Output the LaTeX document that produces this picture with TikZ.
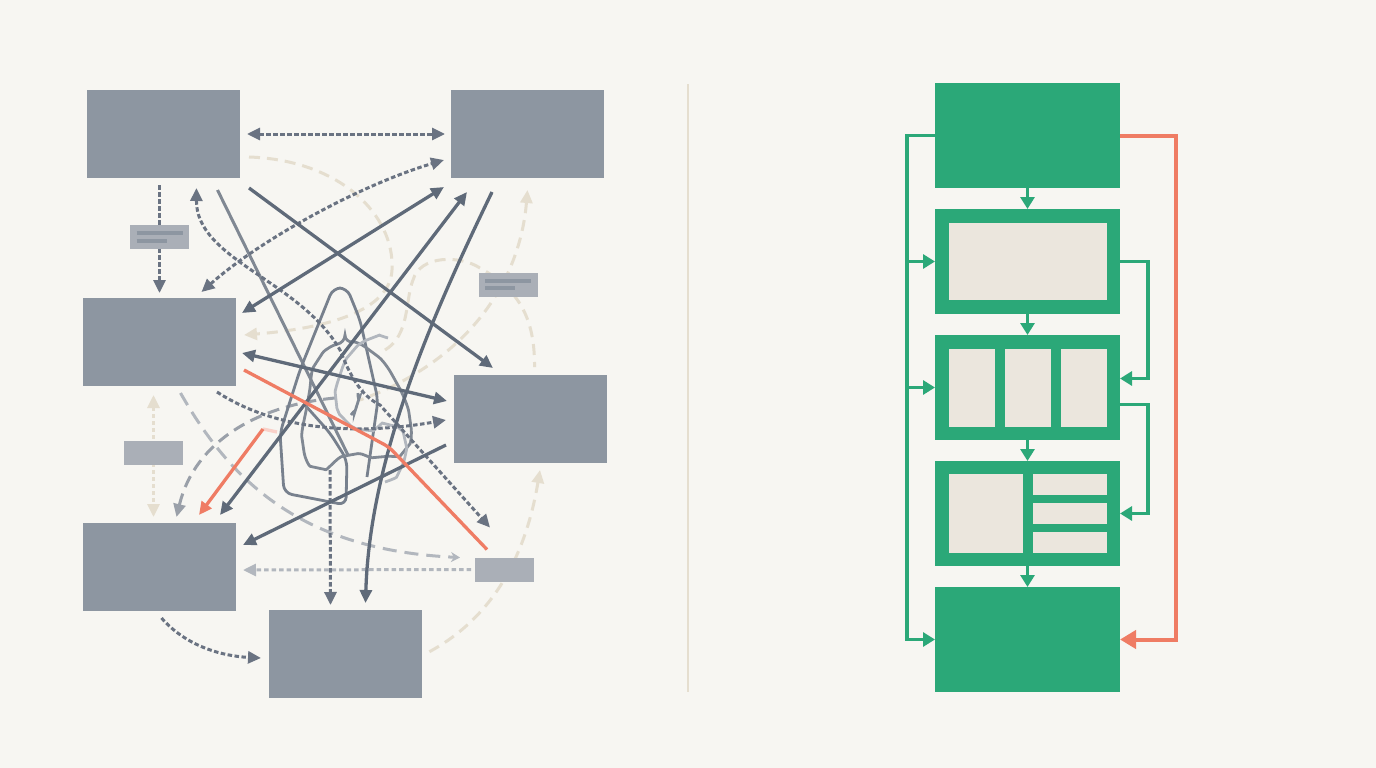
\documentclass[tikz,border=0pt]{standalone}
\definecolor{paper}{RGB}{247,246,242}
\definecolor{boxgray}{RGB}{141,150,161}
\definecolor{taggray}{RGB}{170,175,183}
\definecolor{inkgray}{RGB}{95,106,121}
\definecolor{dotgray}{RGB}{106,115,130}
\definecolor{midgray}{RGB}{128,136,147}
\definecolor{softgray}{RGB}{154,160,169}
\definecolor{palegray}{RGB}{178,183,190}
\definecolor{sand}{RGB}{229,222,207}
\definecolor{flowgreen}{RGB}{43,168,120}
\definecolor{alertorange}{RGB}{239,124,100}
\definecolor{cream}{RGB}{235,230,221}
\usepackage{tikz}
\usetikzlibrary{arrows.meta, positioning, calc}
\pgfdeclarelayer{back}
\pgfsetlayers{back,main}

\tikzset{
  graybox/.style={fill=boxgray, minimum width=153pt, minimum height=88pt, inner sep=0pt, outer sep=0pt},
  tagbox/.style={fill=taggray, minimum width=59pt, minimum height=24pt, inner sep=0pt, outer sep=0pt},
  tagline/.style={line width=3.5pt, draw=boxgray},
  inkline/.style={line width=3.3pt, draw=inkgray},
  dotline/.style={line width=3pt, draw=dotgray, dash pattern=on 4.5pt off 2.5pt},
  sandline/.style={line width=3pt, draw=sand, dash pattern=on 11pt off 7pt},
  knot/.style={line width=2.8pt, rounded corners=8pt},
  greenbox/.style={fill=flowgreen, minimum width=185pt, minimum height=105pt, inner sep=0pt, outer sep=0pt},
  greenline/.style={line width=3.3pt, draw=flowgreen, -{Triangle[length=12pt,width=14pt]}},
  alertline/.style={line width=3.3pt, draw=alertorange},
}

\begin{document}
\begin{tikzpicture}[x=1pt, y=-1pt, >={Triangle[length=13pt,width=12pt]}]
  % Tangled modules
  \node[graybox] (modA) at (163.5,134) {};
  \node[graybox] (modB) at (527.5,134) {};
  \node[graybox] (modC) at (159.5,342) {};
  \node[graybox] (modD) at (530.5,419) {};
  \node[graybox] (modE) at (159.5,567) {};
  \node[graybox] (modF) at (345.5,654) {};

  % Small tags on the links
  \node[tagbox] (tagA) at (159.5,237) {};
  \draw[tagline] ($(tagA.center)+(-23,-4)$) -- ++(46,0);
  \draw[tagline] ($(tagA.center)+(-23,4)$) -- ++(30,0);
  \node[tagbox] (tagB) at (508,285) {};
  \draw[tagline] ($(tagB.center)+(-23,-4)$) -- ++(46,0);
  \draw[tagline] ($(tagB.center)+(-23,3)$) -- ++(30,0);
  \node[tagbox] (tagC) at (153.5,452.5) {};
  \node[tagbox] (tagD) at (504.5,569.5) {};

  % Loose ends in the knot
  \coordinate (knotA) at (348,455);
  \coordinate (knotE) at (335,398);
  \coordinate (knotF) at (330,470);
  \coordinate (knotS1) at (385,350);
  \coordinate (knotS2) at (360,400);
  \coordinate (obend) at (263,429);

  \begin{pgfonlayer}{back}
    \fill[paper] (0,0) rectangle (1376,768);
    % Divider
    \draw[sand, line width=2.5pt] (688,84) -- (688,692);

    % Faint sand links
    \draw[sandline, ->] ($(modA.south east)+(9,-21)$) .. controls (340,160) and (395,215) .. (392,270) .. controls (390,310) and (330,328) .. ($(modC.east)+(8,-7)$);
    \draw[sandline] (knotS1) .. controls (410,335) and (405,300) .. (413,280) .. controls (420,255) and (460,255) .. (480,268) .. controls (520,290) and (535,320) .. ($(modD.north)+(4,-8)$);
    \draw[sandline, <-] ($(modB.south)+(0,12)$) .. controls (520,280) and (470,360) .. (knotS2);
    \draw[sandline, <-] ($(modD.south east)+(-67,7)$) .. controls (525,560) and (490,620) .. ($(modF.east)+(5,-1)$);
    \draw[sandline, <->, dash pattern=on 4pt off 3pt] ($(modC.south)+(-6,9)$) -- ($(modE.north)+(-6,-6)$);

    % Pale grey links
    \draw[softgray, line width=3pt, dash pattern=on 12pt off 7pt, ->] (knotE) .. controls (260,405) and (195,440) .. ($(modE.north)+(17,-6)$);
    \draw[palegray, line width=3pt, dash pattern=on 14pt off 8pt, -{Stealth[length=9pt,width=10pt]}] ($(modC.south)+(21,7)$) .. controls (230,480) and (300,550) .. ($(tagD.west)+(-15,-12)$);
    \draw[palegray, line width=3pt, dash pattern=on 4.5pt off 3pt, ->] ($(tagD.west)+(-4,0)$) -- ($(modE.east)+(7,3)$);
    \draw[midgray, line width=3pt] ($(modA.south)+(54,12)$) -- (knotA);

    % The knot
    \draw[knot, inkgray!85] (367,477) -- (378,400) -- (360,320) -- (347,288) -- (333,288) -- (300,370) -- (280,433) -- (284,493) -- (346,505) -- (347,460) -- (330,433) -- (305,405);
    \draw[knot, midgray] plot[smooth cycle, tension=0.7] coordinates {(318,360) (345,343) (372,352) (395,380) (410,420) (405,450) (380,457) (350,455) (318,468) (303,445) (308,400)};
    \draw[knot, palegray] plot[smooth, tension=0.7] coordinates {(388,338) (372,338) (352,352) (340,375) (336,400) (345,420) (365,430) (390,425) (405,440) (400,470) (385,482)};
    \draw[knot, inkgray!80] plot[smooth] coordinates {(358,393) (357,405) (351,415)};

    % Dark links
    \draw[dotline, <->] ($(modA.east)+(7,0)$) -- ($(modB.west)+(-6,0)$);
    \draw[dotline, ->] ($(modA.south)+(-4,7)$) -- ($(modC.north)+(0,-5)$);
    \draw[dotline, <->] ($(modC.north)+(42,-6)$) .. controls (260,240) and (360,185) .. ($(modB.west)+(-7,26)$);
    \draw[dotline, <->] ($(modA.south)+(33,10)$) .. controls (196,260) and (300,280) .. (340,350) .. controls (350,375) and (360,395) .. (380,405) -- ($(tagD.north west)+(15,-30)$);
    \draw[dotline, ->] ($(modC.south east)+(-19,6)$) .. controls (260,420) and (330,440) .. ($(modD.west)+(-8,1)$);
    \draw[dotline, ->] ($(modE.south)+(2,7)$) .. controls (185,645) and (220,656) .. ($(modF.west)+(-8,4)$);
    \draw[dotline, ->] (knotF) -- ($(modF.north)+(-15,-5)$);
    \draw[inkline, ->] ($(modA.south east)+(9,10)$) -- ($(modD.north west)+(39,-7)$);
    \draw[inkline, <->] ($(modC.east)+(6,-29)$) -- ($(modB.south west)+(-7,9)$);
    \draw[inkline, <->] ($(modE.north east)+(-16,-8)$) -- ($(modB.south west)+(16,14)$);
    \draw[inkline, ->] ($(modB.south west)+(41,14)$) .. controls (440,300) and (370,450) .. ($(modF.north)+(20,-7)$);
    \draw[inkline, <->] ($(modC.east)+(6,11)$) -- ($(modD.west)+(-7,-18)$);
    \draw[inkline, ->] ($(modD.west)+(-8,26)$) -- ($(modE.east)+(7,-22)$);

    % Orange links
    \draw[alertline, rounded corners=6pt] ($(modC.east)+(8,28)$) -- (389,447) -- ($(tagD.north west)+(12,-8)$);
    \draw[alertorange!35, line width=3.3pt] (277,432) -- (obend);
    \draw[alertline, ->] (obend) -- ($(modE.north east)+(-37,-8)$);
  \end{pgfonlayer}

  % Clean pipeline
  \node[greenbox] (stage1) at (1027.5,135.5) {};
  \node[greenbox, below=21pt of stage1] (stage2) {};
  \node[greenbox, below=21pt of stage2] (stage3) {};
  \node[greenbox, below=21pt of stage3] (stage4) {};
  \node[greenbox, below=21pt of stage4] (stage5) {};

  % Panels inside the stages
  \fill[cream] ($(stage2.north west)+(14,14)$) rectangle ($(stage2.south east)+(-13,-14)$);
  \foreach \i in {0,1,2}
    \fill[cream] ($(stage3.north west)+(14+56*\i,14)$) rectangle ++(46,78);
  \fill[cream] ($(stage4.north west)+(14,13)$) rectangle ++(74,79);
  \foreach \j in {0,1,2}
    \fill[cream] ($(stage4.north west)+(98,13+29*\j)$) rectangle ++(74,21);

  % Straight flow
  \draw[greenline] (stage1) -- (stage2);
  \draw[greenline] (stage2) -- (stage3);
  \draw[greenline] (stage3) -- (stage4);
  \draw[greenline] (stage4) -- (stage5);

  % Bus on the left
  \coordinate (busL) at ($(stage1.west)+(-28,0)$);
  \draw[greenline] (stage1.west) -- (busL) |- (stage5.west);
  \draw[greenline] (busL |- stage2.west) -- (stage2.west);
  \draw[greenline] (busL |- stage3.west) -- (stage3.west);

  % Loops on the right
  \draw[greenline] (stage2.east) -- ++(28,0) |- ($(stage3.east)+(0,-9)$);
  \draw[greenline] ($(stage3.east)+(0,17)$) -- ++(28,0) |- (stage4.east);
  \draw[alertline, line width=4pt, -{Triangle[length=16pt,width=18pt]}] (stage1.east) -- ++(56,0) |- (stage5.east);
\end{tikzpicture}
\end{document}
